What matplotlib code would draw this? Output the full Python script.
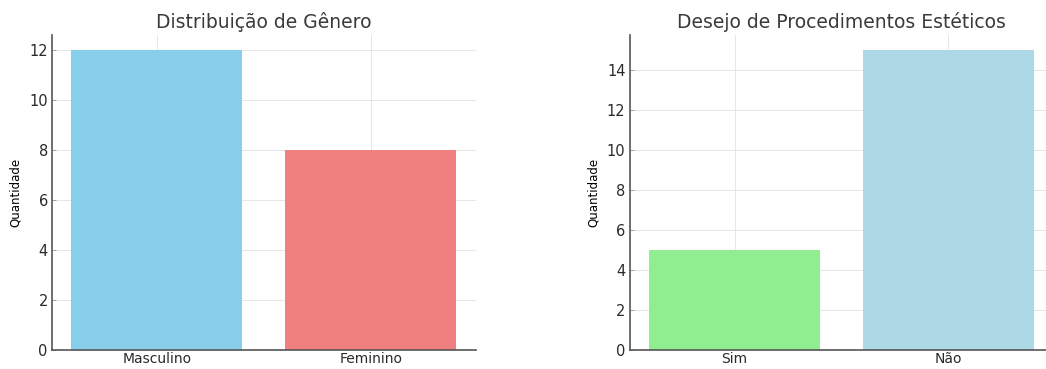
import matplotlib.pyplot as plt

generos = ['Masculino', 'Feminino']
contagem_genero = [12, 8]
cores_genero = ['skyblue', 'lightcoral']

respostas = ['Sim', 'Não']
contagem_desejo = [5, 15]
cores_desejo = ['lightgreen', 'lightblue']

plt.rcParams['font.family'] = 'DejaVu Sans'
plt.rcParams['text.color'] = '#333333'
plt.rcParams['xtick.color'] = '#333333'
plt.rcParams['ytick.color'] = '#333333'

fig = plt.figure(figsize=(10.46, 3.69), dpi=100)
ax1 = fig.add_axes([0.0497, 0.0515, 0.405, 0.854])
ax2 = fig.add_axes([0.602, 0.0515, 0.405, 0.854])


def estilo(ax, titulo):
    ax.set_title(titulo, fontsize=13.5, pad=5, color='#3a3a3a')
    ax.set_ylabel('Quantidade', fontsize=8.5, labelpad=5)
    ax.grid(True, color='#e6e6e6', linewidth=0.7)
    ax.set_axisbelow(True)
    for lado in ['top', 'right']:
        ax.spines[lado].set_visible(False)
    for lado in ['left', 'bottom']:
        ax.spines[lado].set_color('#555555')
        ax.spines[lado].set_linewidth(1.2)
    ax.tick_params(axis='both', labelsize=10.5, length=3, width=0.6,
                   color='#999999', direction='in', pad=3,
                   labelcolor='#2a2a2a')
    ax.tick_params(axis='x', labelsize=10, pad=1.5)


ax1.bar(generos, contagem_genero, color=cores_genero, width=0.8)
estilo(ax1, 'Distribuição de Gênero')

ax2.bar(respostas, contagem_desejo, color=cores_desejo, width=0.8)
estilo(ax2, 'Desejo de Procedimentos Estéticos')

fig.savefig('out.png', dpi=100)
